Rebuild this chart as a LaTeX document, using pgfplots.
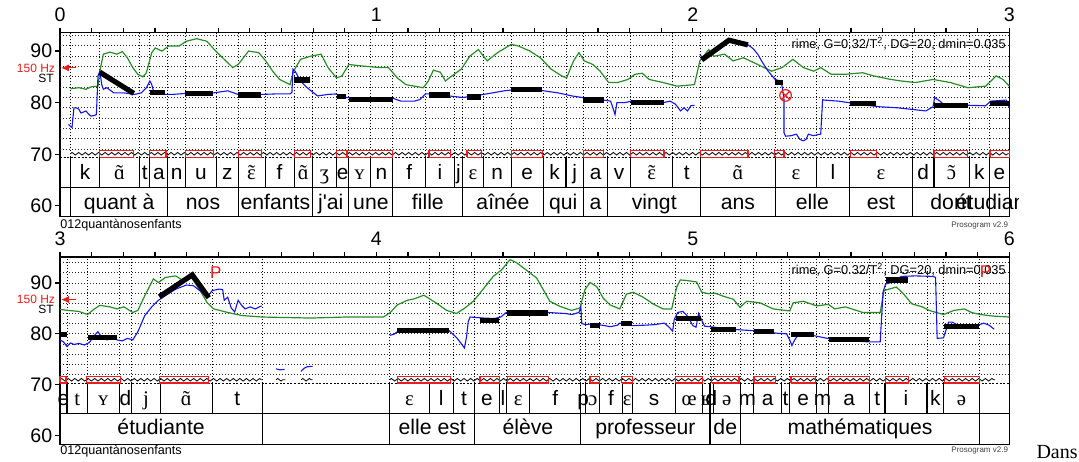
\documentclass[border=0pt]{standalone}
\usepackage{fontspec}
\setmainfont{Liberation Sans}
\newfontfamily\ipa{Liberation Serif}
\newfontfamily\tms{Liberation Serif}
\usepackage{pgfplots}
\pgfplotsset{compat=1.18}
\usetikzlibrary{decorations.pathmorphing,plotmarks,arrows.meta}

\definecolor{pblue}{RGB}{20,20,235}
\definecolor{pgreen}{RGB}{40,140,40}
\definecolor{pred}{RGB}{230,30,30}

\newcommand\nas[1]{{\ipa\ooalign{#1\cr\hidewidth\char"02DC\hidewidth\cr}}}
\tikzset{smalltxt/.style={font=\fontsize{6}{6}\selectfont, inner sep=0pt}}
\pgfplotsset{
  proso/.style={
    scale only axis, width=474.65pt, clip=false, anchor=south west,
    axis line style={line width=0.7pt},
    tick align=outside,
    xtick pos=right, xticklabel pos=right,
    ytick pos=left,
    ytick={60,70,80,90},
    minor x tick num=9,
    major tick length=2.4pt, minor tick length=2.4pt,
    tick style={black, line width=0.6pt},
    tick label style={font=\fontsize{9.8}{10}\selectfont},
    xticklabel style={anchor=south, inner sep=0pt, yshift=3pt},
    yticklabel style={anchor=east, inner sep=0pt, xshift=-1.3pt},
    /pgf/number format/assume math mode=true,
  },
  vdots/.style={black, line width=0.45pt, dash pattern=on 0.45pt off 1.05pt},
  hdots/.style={black!85, line width=0.45pt, dash pattern=on 0.45pt off 1.05pt},
  tier/.style={black, line width=0.55pt},
  dtier/.style={black, line width=0.5pt, dash pattern=on 1pt off 0.8pt},
  nucbox/.style={pred, line width=0.6pt},
  zz/.style={black, line width=0.4pt, decorate, decoration={zigzag, amplitude=0.65pt, segment length=3.3pt}},
  sty/.style={black, line width=2.6pt},
  f0/.style={pblue, line width=0.55pt},
  inten/.style={pgreen, line width=0.6pt},
}
\newcommand\nuc[2]{\addplot[nucbox] coordinates {(#1,\nlo)(#2,\nlo)(#2,\nhi)(#1,\nhi)(#1,\nlo)};}
\newcommand\ph[3]{\node[anchor=base, inner sep=0pt, font=\fontsize{10.4}{12}\selectfont] at (axis cs:{(#1+#2)/2},\phbase) {#3};}
\newcommand\wrd[3]{\node[anchor=base, inner sep=0pt, font=\fontsize{10.6}{12}\selectfont] at (axis cs:{(#1+#2)/2},\wdbase) {#3};}
\newcommand\rime{rime, G=0.32/T\textsuperscript{2}, DG=20, dmin=0.035}

\begin{document}
\begin{tikzpicture}
\path[use as bounding box] (0,0) rectangle (539.5pt,230.5pt);

% ================= PANEL 1 =================
\def\nlo{69.4}\def\nhi{70.8}\def\phbase{65.2}\def\wdbase{59.35}
\begin{axis}[proso, at={(30pt,122.15pt)}, height=92.1pt,
  xmin=0, xmax=3, ymin=57.9, ymax=93.6, xtick={0,1,2,3}]
\pgfplotsinvokeforeach{71,73,75,77,79,81,83,85,87,89,91,93}{
  \addplot[hdots] coordinates {(0,#1)(3,#1)};}
\pgfplotsinvokeforeach{0.033,0.126,0.251,0.284,0.341,0.396,0.495,0.563,0.648,0.740,0.798,0.874,0.913,0.980,1.052,1.155,1.246,1.273,1.337,1.426,1.527,1.599,1.654,1.731,1.803,1.937,2.025,2.260,2.391,2.495,2.694,2.762,2.873,2.938}{
  \addplot[vdots] coordinates {(#1,69.4)(#1,93.6)};
  \addplot[tier] coordinates {(#1,63.6)(#1,69.4)};}
\pgfplotsinvokeforeach{0.033,0.341,0.563,0.798,0.913,1.052,1.273,1.527,1.654,1.731,2.025,2.260,2.495,2.694,2.938}{
  \addplot[tier] coordinates {(#1,57.9)(#1,63.6)};}
\addplot[dtier] coordinates {(0,69.4)(3,69.4)};
\addplot[tier] coordinates {(0,63.6)(3,63.6)};
\addplot[zz] coordinates {(0.033,70.1)(3,70.1)};
\nuc{0.126}{0.233}\nuc{0.284}{0.335}\nuc{0.396}{0.486}\nuc{0.563}{0.636}\nuc{0.740}{0.792}
\nuc{0.874}{0.907}\nuc{0.907}{1.052}\nuc{1.166}{1.233}\nuc{1.286}{1.331}\nuc{1.426}{1.524}
\nuc{1.654}{1.718}\nuc{1.804}{1.909}\nuc{2.025}{2.174}\nuc{2.258}{2.288}\nuc{2.498}{2.581}
\nuc{2.762}{2.869}\nuc{2.939}{3.0}
\addplot[inten] coordinates {(0.033,82.7)(0.06,82.9)(0.082,82.6)(0.1,83.1)(0.12,83.2)(0.126,86.1)(0.137,89.4)(0.158,89.8)(0.18,89.4)(0.197,89.9)(0.213,88.7)(0.23,86.8)(0.246,85.5)(0.262,85.0)(0.273,85.8)(0.29,89.7)(0.301,90.6)(0.322,90.0)(0.344,91.0)(0.377,91.0)(0.399,91.9)(0.432,92.4)(0.464,91.9)(0.492,90.0)(0.519,88.4)(0.546,86.8)(0.563,87.4)(0.596,90.0)(0.628,89.7)(0.65,88.1)(0.672,86.1)(0.694,84.5)(0.727,83.5)(0.738,86.1)(0.76,88.4)(0.792,89.0)(0.825,89.4)(0.847,86.8)(0.874,84.8)(0.891,85.2)(0.913,87.4)(0.956,87.1)(1.011,86.8)(1.038,86.8)(1.066,84.8)(1.093,83.5)(1.12,83.2)(1.148,82.9)(1.164,84.2)(1.18,86.3)(1.202,85.9)(1.218,84.2)(1.23,84.8)(1.268,86.5)(1.295,89.0)(1.322,90.3)(1.35,88.1)(1.383,89.7)(1.426,91.3)(1.448,91.0)(1.485,90.0)(1.518,88.7)(1.552,86.5)(1.585,85.2)(1.601,84.8)(1.623,88.1)(1.64,89.7)(1.657,88.1)(1.684,87.4)(1.707,86.1)(1.734,83.9)(1.762,83.9)(1.795,84.5)(1.817,85.5)(1.84,85.7)(1.862,84.5)(1.906,83.9)(1.95,83.2)(2.005,83.5)(2.022,88.1)(2.05,90.3)(2.066,89.0)(2.1,89.4)(2.127,88.1)(2.16,88.7)(2.205,87.4)(2.249,86.1)(2.282,86.8)(2.316,88.4)(2.349,86.8)(2.382,86.1)(2.404,86.8)(2.437,85.5)(2.482,85.5)(2.537,85.8)(2.57,85.2)(2.626,84.5)(2.659,84.2)(2.703,83.9)(2.759,84.5)(2.814,83.9)(2.869,82.9)(2.925,83.2)(2.947,84.5)(2.958,85.2)(2.98,84.5)(3.0,83.2)};
\addplot[f0] coordinates {(0.027,75.8)(0.033,75.4)(0.038,75.2)(0.044,79.0)(0.052,79.0)(0.06,78.7)(0.066,78.0)(0.071,78.1)(0.082,78.4)(0.09,77.8)(0.098,77.4)(0.108,77.5)(0.115,77.7)(0.12,85.2)(0.126,86.1)(0.132,83.5)(0.137,82.6)(0.148,82.9)(0.17,81.9)(0.202,81.9)(0.235,81.6)(0.257,81.9)(0.273,82.9)(0.284,84.2)(0.29,83.5)(0.295,82.3)(0.311,81.6)(0.355,81.6)(0.421,81.9)(0.486,81.9)(0.53,82.3)(0.563,81.6)(0.639,81.6)(0.683,81.7)(0.727,81.7)(0.733,82.0)(0.736,86.5)(0.743,86.1)(0.76,84.2)(0.781,82.9)(0.814,81.3)(0.847,81.6)(0.874,81.7)(0.885,81.0)(0.913,81.0)(0.956,80.6)(1.011,80.8)(1.055,80.8)(1.077,80.3)(1.12,80.3)(1.137,80.6)(1.155,81.7)(1.197,81.7)(1.23,81.3)(1.273,81.0)(1.339,81.6)(1.404,82.3)(1.448,82.6)(1.485,82.7)(1.529,82.3)(1.574,81.9)(1.618,81.3)(1.651,81.0)(1.707,80.6)(1.74,80.3)(1.749,78.7)(1.754,77.7)(1.76,80.0)(1.784,80.0)(1.806,80.3)(1.906,80.0)(1.928,80.3)(1.945,79.7)(1.961,78.4)(1.972,79.0)(1.983,78.4)(1.994,79.4)(2.005,79.5)};
\addplot[f0] coordinates {(2.022,89.4)(2.033,88.4)(2.06,89.8)(2.08,91.0)(2.105,92.0)(2.14,91.8)(2.172,91.3)(2.19,90.5)(2.205,89.4)(2.22,87.8)(2.238,86.1)(2.26,84.5)(2.277,84.2)(2.282,83.2)(2.288,80.6)(2.288,74.2)(2.293,73.5)(2.31,73.6)(2.327,73.9)(2.338,72.9)(2.349,72.6)(2.358,72.9)(2.365,73.9)(2.38,73.6)(2.395,73.8)(2.404,73.9)(2.41,80.6)(2.415,80.5)(2.46,80.3)(2.493,80.0)(2.548,79.5)(2.592,79.2)(2.648,79.0)(2.692,78.7)(2.736,78.4)(2.759,79.2)(2.764,81.0)(2.781,80.3)(2.792,79.7)(2.869,79.5)(2.925,79.4)(2.941,80.3)(2.991,80.5)(3.0,79.0)};
\addplot[sty] coordinates {(0.126,85.9)(0.233,81.8)};
\addplot[sty] coordinates {(0.284,81.9)(0.333,81.9)};
\addplot[sty] coordinates {(0.396,81.8)(0.483,81.8)};
\addplot[sty] coordinates {(0.563,81.5)(0.634,81.5)};
\addplot[sty] coordinates {(0.740,84.4)(0.789,84.4)};
\addplot[sty] coordinates {(0.874,81.2)(0.905,81.2)};
\addplot[sty] coordinates {(0.913,80.6)(1.052,80.6)};
\addplot[sty] coordinates {(1.166,81.5)(1.233,81.5)};
\addplot[sty] coordinates {(1.286,81.1)(1.331,81.1)};
\addplot[sty] coordinates {(1.426,82.6)(1.524,82.6)};
\addplot[sty] coordinates {(1.654,80.5)(1.718,80.5)};
\addplot[sty] coordinates {(1.804,80.0)(1.908,80.0)};
\addplot[sty] coordinates {(2.028,88.3)(2.114,92.1)(2.174,91.2)};
\addplot[sty] coordinates {(2.258,83.9)(2.285,83.9)};
\addplot[sty] coordinates {(2.498,79.8)(2.579,79.8)};
\addplot[sty] coordinates {(2.762,79.5)(2.869,79.5)};
\addplot[sty] coordinates {(2.939,79.9)(3.0,79.9)};
\addplot[pred, only marks, mark=otimes, mark size=2.9pt, mark options={line width=0.6pt}] coordinates {(2.293,81.4)};
\addplot[pred, line width=0.6pt, -{Latex[length=4pt,width=3.6pt]}] coordinates {(0.05,86.74)(0.003,86.74)};
\node[smalltxt, text=pred] at (axis cs:-0.076,86.74) {150 Hz};
\node[smalltxt] at (axis cs:-0.044,84.8) {ST};
\node[smalltxt, anchor=east, font=\fontsize{6.4}{7}\selectfont] at (axis cs:2.99,91.5) {\rime};
\node[smalltxt, anchor=base west, font=\fontsize{6.3}{7}\selectfont] at (axis cs:0,55.7) {012quantànosenfants};
\node[anchor=base east, inner sep=0pt, font=\fontsize{4}{5}\selectfont, text=black!75] at (axis cs:2.997,55.9) {Prosogram v2.9};
\ph{0.033}{0.126}{k}\ph{0.126}{0.251}{\nas{ɑ}}\ph{0.251}{0.284}{t}\ph{0.284}{0.341}{a}
\ph{0.341}{0.396}{n}\ph{0.396}{0.495}{u}\ph{0.495}{0.563}{z}\ph{0.563}{0.648}{\nas{ɛ}}
\ph{0.648}{0.740}{f}\ph{0.740}{0.798}{\nas{ɑ}}\ph{0.798}{0.874}{\ipa ʒ}\ph{0.874}{0.913}{e}
\ph{0.913}{0.980}{\ipa ʏ}\ph{0.980}{1.052}{n}\ph{1.052}{1.155}{f}\ph{1.155}{1.246}{i}
\ph{1.246}{1.273}{j}\ph{1.273}{1.337}{\ipa ɛ}\ph{1.337}{1.426}{n}\ph{1.426}{1.527}{e}
\ph{1.527}{1.599}{k}\ph{1.599}{1.654}{j}\ph{1.654}{1.731}{a}\ph{1.731}{1.803}{v}
\ph{1.803}{1.937}{\nas{ɛ}}\ph{1.937}{2.025}{t}\ph{2.025}{2.260}{\nas{ɑ}}\ph{2.260}{2.391}{\ipa ɛ}
\ph{2.391}{2.495}{l}\ph{2.495}{2.694}{\ipa ɛ}\ph{2.694}{2.762}{d}\ph{2.762}{2.873}{\nas{ɔ}}
\ph{2.873}{2.938}{k}\ph{2.938}{3.0}{e}
\wrd{0.033}{0.341}{quant à}\wrd{0.341}{0.563}{nos}\wrd{0.563}{0.798}{enfants}
\wrd{0.798}{0.913}{j\textquotesingle ai}\wrd{0.913}{1.052}{une}\wrd{1.052}{1.273}{fille}
\wrd{1.273}{1.527}{aînée}\wrd{1.527}{1.654}{qui}\wrd{1.654}{1.731}{a}\wrd{1.731}{2.025}{vingt}
\wrd{2.025}{2.260}{ans}\wrd{2.260}{2.495}{elle}\wrd{2.495}{2.694}{est}\wrd{2.694}{2.938}{dont}
\coordinate (etu) at (axis cs:2.969,59.35);
\end{axis}
\begin{scope}
\clip (0,0) rectangle (509pt,230pt);
\node[anchor=base, inner sep=0pt, font=\fontsize{10.6}{12}\selectfont] at (etu) {étudiante};
\end{scope}

% ================= PANEL 2 =================
\def\nlo{70.3}\def\nhi{71.6}\def\phbase{65.95}\def\wdbase{60.1}
\begin{axis}[proso, at={(30pt,8.25pt)}, height=93.7pt,
  xmin=3, xmax=6, ymin=58.2, ymax=95.1, xtick={3,4,5,6}]
\pgfplotsinvokeforeach{72,74,76,78,80,82,84,86,88,90,92,94}{
  \addplot[hdots] coordinates {(3,#1)(6,#1)};}
\pgfplotsinvokeforeach{3.022,3.087,3.187,3.227,3.317,3.482,3.639,4.042,4.167,4.243,4.311,4.388,4.411,4.485,4.646,4.661,4.706,4.777,4.808,4.946,5.031,5.054,5.064,5.151,5.193,5.280,5.306,5.391,5.428,5.559,5.607,5.740,5.792,5.906}{
  \addplot[vdots] coordinates {(#1,70.3)(#1,95.1)};
  \addplot[tier] coordinates {(#1,64.3)(#1,70.3)};}
\pgfplotsinvokeforeach{3.639,4.042,4.311,4.646,5.054,5.151,5.906}{
  \addplot[tier] coordinates {(#1,58.2)(#1,64.3)};}
\addplot[dtier] coordinates {(3,70.3)(6,70.3)};
\addplot[tier] coordinates {(3,64.3)(6,64.3)};
\addplot[zz] coordinates {(3,70.95)(3.637,70.95)};
\addplot[zz] coordinates {(3.683,70.95)(3.712,70.95)};
\addplot[zz] coordinates {(3.762,70.95)(3.798,70.95)};
\addplot[zz] coordinates {(4.042,70.95)(5.955,70.95)};
\nuc{3.0}{3.019}\nuc{3.084}{3.191}\nuc{3.314}{3.47}\nuc{4.066}{4.233}\nuc{4.327}{4.388}
\nuc{4.413}{4.543}\nuc{4.675}{4.706}\nuc{4.775}{4.808}\nuc{4.946}{5.030}\nuc{5.060}{5.146}
\nuc{5.193}{5.26}\nuc{5.31}{5.388}\nuc{5.429}{5.557}\nuc{5.609}{5.681}\nuc{5.794}{5.905}
\addplot[inten] coordinates {(3.0,84.8)(3.027,84.6)(3.06,84.4)(3.087,83.8)(3.109,84.9)(3.126,85.6)(3.158,85.3)(3.18,84.9)(3.202,85.3)(3.23,84.2)(3.246,84.6)(3.268,87.5)(3.295,90.8)(3.311,90.1)(3.333,91.1)(3.366,91.4)(3.393,90.3)(3.415,91.1)(3.443,88.5)(3.464,86.2)(3.486,84.9)(3.53,84.2)(3.574,83.6)(3.639,83.3)(3.792,83.1)(3.902,83.3)(4.022,83.3)(4.044,84.2)(4.066,85.7)(4.098,86.6)(4.12,86.9)(4.15,87.6)(4.19,86.0)(4.222,84.6)(4.253,84.0)(4.28,85.1)(4.306,86.4)(4.327,88.0)(4.35,89.8)(4.369,91.3)(4.396,92.6)(4.422,94.6)(4.443,94.0)(4.464,93.0)(4.485,92.0)(4.506,91.0)(4.527,88.7)(4.548,86.4)(4.58,85.4)(4.617,84.6)(4.643,85.1)(4.659,88.7)(4.675,90.1)(4.696,89.3)(4.717,87.0)(4.738,85.7)(4.769,84.9)(4.79,87.8)(4.811,88.2)(4.843,87.2)(4.874,85.9)(4.906,84.9)(4.933,84.9)(4.949,89.2)(4.96,90.6)(4.98,90.5)(5.012,90.2)(5.028,88.2)(5.049,87.9)(5.07,88.0)(5.096,87.4)(5.128,86.8)(5.149,85.2)(5.17,86.4)(5.212,86.1)(5.254,84.9)(5.306,84.5)(5.317,86.1)(5.349,86.4)(5.391,85.5)(5.428,85.8)(5.448,84.9)(5.482,85.3)(5.537,84.2)(5.592,84.2)(5.604,88.5)(5.62,88.8)(5.643,89.2)(5.665,87.9)(5.692,85.9)(5.725,85.3)(5.747,84.6)(5.769,84.2)(5.792,83.8)(5.825,84.6)(5.858,84.9)(5.88,84.2)(5.908,83.8)(5.947,83.5)(6.0,83.3)};
\addplot[f0] coordinates {(3.0,78.8)(3.011,78.4)(3.022,77.5)(3.033,78.2)(3.044,77.9)(3.06,78.1)(3.077,77.8)(3.093,78.3)(3.109,79.7)(3.12,80.4)(3.131,79.4)(3.148,78.8)(3.164,79.1)(3.18,78.8)(3.197,78.6)(3.213,79.1)(3.23,78.8)(3.246,80.4)(3.268,83.6)(3.29,85.3)(3.311,86.6)(3.333,87.5)(3.366,88.8)(3.399,89.6)(3.421,89.5)(3.454,87.9)(3.464,87.2)(3.481,88.5)(3.503,88.8)(3.514,88.7)(3.519,86.6)(3.53,87.2)(3.541,85.1)(3.552,84.3)(3.563,86.6)(3.574,85.6)(3.585,84.9)(3.601,85.3)(3.617,84.9)(3.637,85.5)};
\addplot[f0] coordinates {(3.683,73.1)(3.695,72.9)(3.71,73.0)};
\addplot[f0] coordinates {(3.762,72.6)(3.771,73.2)(3.781,73.5)(3.798,73.6)};
\addplot[f0] coordinates {(4.042,79.7)(4.055,79.9)(4.066,80.4)(4.15,80.5)(4.23,80.6)(4.254,79.2)(4.27,77.9)(4.278,77.2)(4.285,79.5)(4.29,82.4)(4.296,83.3)(4.339,83.1)(4.372,83.0)(4.393,83.3)(4.41,84.2)(4.448,84.2)(4.54,84.2)(4.596,84.0)(4.618,83.8)(4.64,84.2)(4.646,85.3)(4.649,82.0)(4.662,81.8)(4.684,82.0)(4.712,81.7)(4.74,81.4)(4.762,81.7)(4.769,82.1)(4.806,81.6)(4.85,81.7)(4.878,81.8)(4.91,82.1)(4.925,81.3)(4.936,80.5)(4.941,82.8)(4.952,84.2)(4.968,84.4)(4.984,83.4)(5.0,81.6)(5.01,81.3)(5.018,84.0)(5.027,82.8)(5.037,81.5)(5.069,81.3)(5.143,80.8)(5.195,80.6)(5.269,80.1)(5.296,80.0)(5.306,78.8)(5.313,77.7)(5.322,78.8)(5.333,79.8)(5.385,79.6)(5.417,79.2)(5.449,78.8)(5.50,78.6)(5.559,78.4)(5.592,78.4)(5.601,88.2)(5.609,89.8)(5.626,90.1)(5.659,91.3)(5.703,91.4)(5.759,91.3)(5.767,91.1)(5.772,79.1)(5.792,79.2)(5.808,82.3)(5.819,82.3)(5.847,81.4)(5.902,81.7)(5.919,82.1)(5.936,81.7)(5.952,80.9)};
\addplot[sty] coordinates {(3.0,79.9)(3.022,79.9)};
\addplot[sty] coordinates {(3.087,79.3)(3.18,79.3)};
\addplot[sty] coordinates {(3.314,87.3)(3.418,91.6)(3.47,87.1)};
\addplot[sty] coordinates {(4.066,80.6)(4.23,80.6)};
\addplot[sty] coordinates {(4.327,82.6)(4.388,82.6)};
\addplot[sty] coordinates {(4.413,84.1)(4.543,84.1)};
\addplot[sty] coordinates {(4.675,81.6)(4.706,81.6)};
\addplot[sty] coordinates {(4.773,82.0)(4.807,82.0)};
\addplot[sty] coordinates {(4.946,83.0)(5.027,83.0)};
\addplot[sty] coordinates {(5.057,80.8)(5.135,80.8)};
\addplot[sty] coordinates {(5.193,80.5)(5.256,80.5)};
\addplot[sty] coordinates {(5.31,79.8)(5.383,79.8)};
\addplot[sty] coordinates {(5.429,78.9)(5.557,78.9)};
\addplot[sty] coordinates {(5.609,90.6)(5.679,90.6)};
\addplot[sty] coordinates {(5.794,81.4)(5.905,81.4)};
\addplot[pred, line width=0.6pt, -{Latex[length=4pt,width=3.6pt]}] coordinates {(3.05,86.74)(3.003,86.74)};
\node[smalltxt, text=pred] at (axis cs:2.924,86.74) {150 Hz};
\node[smalltxt] at (axis cs:2.956,84.8) {ST};
\node[smalltxt, anchor=east, font=\fontsize{6.4}{7}\selectfont] at (axis cs:5.99,92.6) {\rime};
\node[inner sep=0pt, text=pred, font=\fontsize{8.5}{9}\selectfont] at (axis cs:3.492,92.0) {P};
\node[inner sep=0pt, text=pred, font=\fontsize{8.5}{9}\selectfont] at (axis cs:5.925,92.3) {P};
\node[smalltxt, anchor=base west, font=\fontsize{6.3}{7}\selectfont] at (axis cs:3,56.2) {012quantànosenfants};
\node[anchor=base east, inner sep=0pt, font=\fontsize{4}{5}\selectfont, text=black!75] at (axis cs:5.997,56.6) {Prosogram v2.9};
\ph{3.0}{3.022}{e}\ph{3.022}{3.087}{\ipa t}\ph{3.087}{3.187}{\ipa ʏ}\ph{3.187}{3.227}{d}
\ph{3.227}{3.317}{\ipa j}\ph{3.317}{3.482}{\nas{ɑ}}\ph{3.482}{3.639}{t}
\ph{4.042}{4.167}{\ipa ɛ}\ph{4.167}{4.243}{l}\ph{4.243}{4.311}{t}\ph{4.311}{4.388}{e}
\ph{4.388}{4.411}{l}\ph{4.411}{4.485}{\ipa ɛ}\ph{4.485}{4.646}{f}\ph{4.646}{4.661}{p}
\ph{4.661}{4.706}{\ipa ɔ}\ph{4.706}{4.777}{f}\ph{4.777}{4.808}{\ipa ɛ}\ph{4.808}{4.946}{s}
\ph{4.946}{5.031}{\ipa œ}\ph{5.031}{5.054}{\ipa ʁ}\ph{5.054}{5.064}{d}\ph{5.064}{5.151}{\ipa ə}
\ph{5.151}{5.193}{m}\ph{5.193}{5.280}{a}\ph{5.280}{5.306}{t}\ph{5.306}{5.391}{e}
\ph{5.391}{5.428}{m}\ph{5.428}{5.559}{a}\ph{5.559}{5.607}{t}\ph{5.607}{5.740}{i}
\ph{5.740}{5.792}{k}\ph{5.792}{5.906}{\ipa ə}
\wrd{3.0}{3.639}{étudiante}\wrd{4.042}{4.311}{elle est}\wrd{4.311}{4.646}{élève}
\wrd{4.646}{5.054}{professeur}\wrd{5.054}{5.151}{de}\wrd{5.151}{5.906}{mathématiques}
\end{axis}
\node[anchor=base east, inner sep=0pt, font=\tms\fontsize{10}{12}\selectfont] at (539pt,1.5pt) {Dans};
\end{tikzpicture}
\end{document}
